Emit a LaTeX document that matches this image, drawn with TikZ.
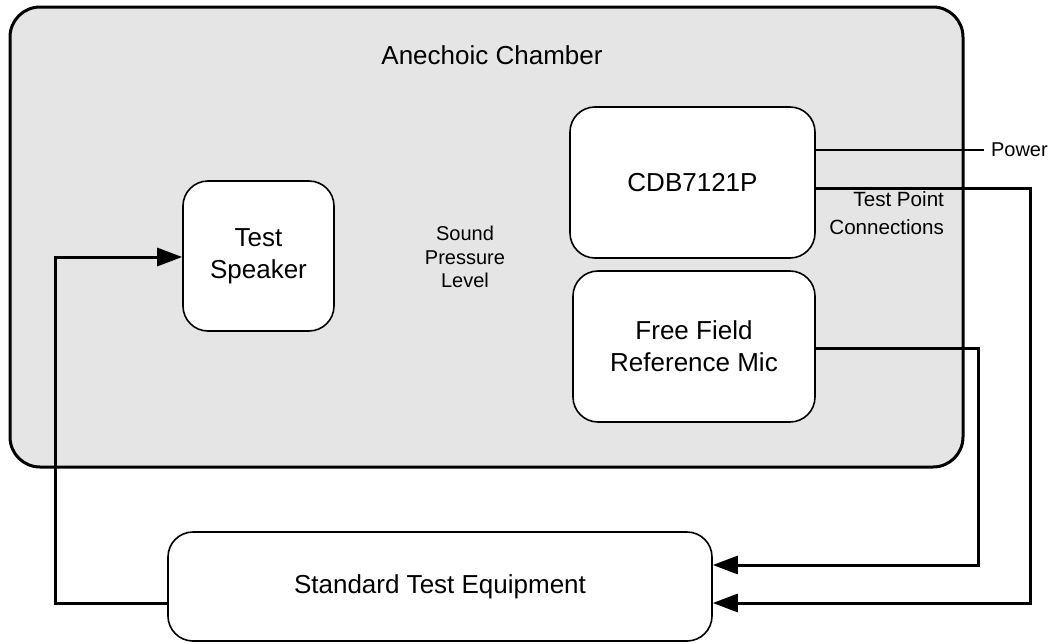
\documentclass[tikz,border=0pt]{standalone}
\usepackage{fontspec}
\setmainfont{Liberation Sans}
\usetikzlibrary{arrows.meta}
\definecolor{chamberfill}{RGB}{229,229,229}
\tikzset{
  chamber/.style={draw, line width=1.5pt, rounded corners=15pt, fill=chamberfill, inner sep=0pt},
  unit/.style={draw, line width=0.8pt, rounded corners=12.5pt, fill=white, inner sep=0pt, align=center, font=\fontsize{13}{16}\selectfont},
  big/.style={font=\fontsize{13}{16}\selectfont, align=center},
  small/.style={font=\fontsize{10}{11.75}\selectfont, align=center},
  conn/.style={line width=1.5pt},
  arr/.style={line width=1.5pt, -{Triangle[length=12.5pt,width=9pt]}},
  thin/.style={line width=0.6pt}
}
\begin{document}
\begin{tikzpicture}[x=0.5pt,y=-0.5pt]
\useasboundingbox (0,0) rectangle (1051,643);
\node[chamber, minimum width=476.5pt, minimum height=230pt] (ch) at (486.5,237) {};
\node[big] (chl) at (492,55) {Anechoic Chamber};
\node[unit, minimum width=75.5pt, minimum height=75pt] (spk) at (258.5,256) {Test\\Speaker};
\node[unit, minimum width=122.5pt, minimum height=75.5pt] (cdb) at (692.5,182.5) {CDB7121P};
\node[unit, minimum width=121pt, minimum height=75.5pt] (mic) at (694,346.5) {Free Field\\Reference Mic};
\node[unit, minimum width=272pt, minimum height=54.5pt] (ste) at (440,586.5) {Standard Test Equipment};
\node[small] (spl) at (465,257) {Sound\\Pressure\\Level};
\node[small, anchor=west] (pw) at (984,150) {Power};
\node[small, font=\fontsize{10.3}{14}\selectfont, align=right, anchor=east] (tpc) at (951,213) {Test Point\\Connections};
\coordinate (a1) at (1030,188);
\coordinate (a2) at (1030,603);
\coordinate (b1) at (978,348);
\coordinate (b2) at (978,565);
\coordinate (c1) at (55,603);
\coordinate (c2) at (55,257);
\draw[thin] (cdb.east |- pw.west) -- (pw.west);
\draw[arr] (cdb.east |- a1) -- (a1) -- (a2) -- (ste.east |- a2);
\draw[arr] (mic.east |- b1) -- (b1) -- (b2) -- (ste.east |- b2);
\draw[arr] (ste.west |- c1) -- (c1) -- (c2) -- (spk.west |- c2);
\end{tikzpicture}
\end{document}
